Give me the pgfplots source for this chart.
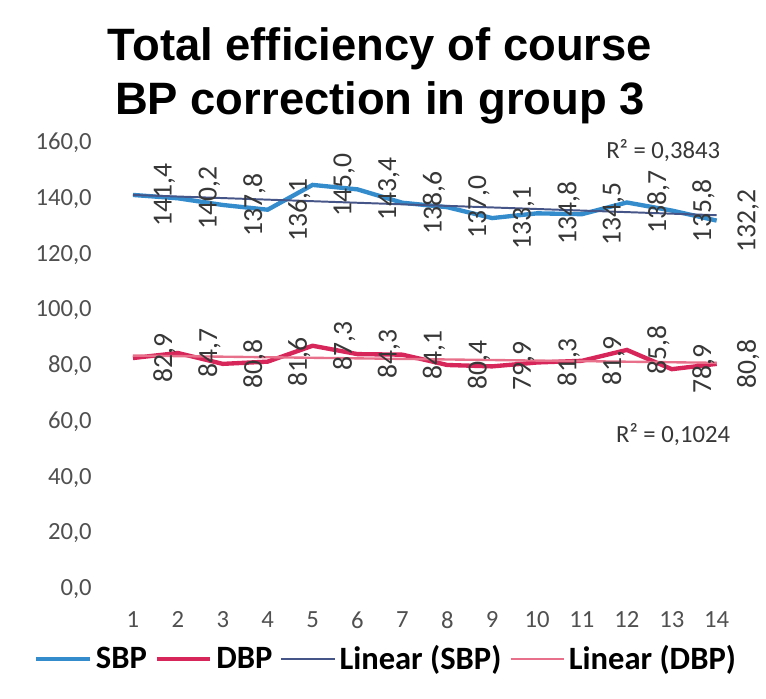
\documentclass[border=0pt]{standalone}
\usepackage{pgfplots}
\pgfplotsset{compat=1.18}
\usepackage{fontspec}
\setmainfont{Carlito}
\newfontfamily\titlefont{Liberation Sans}
\definecolor{sbp}{RGB}{52,140,205}
\definecolor{dbp}{RGB}{214,38,90}
\definecolor{linsbp}{RGB}{70,85,135}
\definecolor{lindbp}{RGB}{232,112,138}
\definecolor{ticktext}{RGB}{80,80,80}
\definecolor{labtext}{RGB}{55,55,55}
\begin{document}
\begin{tikzpicture}
\begin{axis}[
  at={(0,0)}, anchor=south west,
  scale only axis, width=318.5pt, height=226pt,
  xmin=0.5, xmax=14.5, ymin=0, ymax=160,
  xtick={1,2,3,4,5,6,7,8,9,10,11,12,13,14},
  xticklabels={1,2,3,4,5,6,7,8,9,10,11,12,13,14},
  ytick={0,20,40,60,80,100,120,140,160},
  axis line style={draw=none},
  major tick length=0pt,
  clip=false,
  /pgf/number format/fixed,
  /pgf/number format/fixed zerofill,
  /pgf/number format/precision=1,
  /pgf/number format/use comma,
  /pgf/number format/assume math mode=true,
  yticklabel style={font=\fontsize{12.5}{14}\selectfont, text=ticktext, xshift=-6pt},
  xticklabel style={font=\fontsize{12.5}{14}\selectfont, text=ticktext, yshift=-8pt},
  every node near coord/.append style={font=\fontsize{14}{15}\selectfont, text=labtext, anchor=center, xshift=16pt, rotate=90},
  legend columns=4,
  legend style={at={(0.44,-0.157)}, anchor=center, draw=none, fill=none,
    font=\fontsize{16.5}{18}\selectfont\bfseries,
    /tikz/every even column/.append style={column sep=2pt}},
  legend image code/.code={\draw[#1] (0pt,0pt) -- (27pt,0pt);},
]
\addplot[sbp, line width=2.2pt, nodes near coords] coordinates {
(1,141.4) (2,140.2) (3,137.8) (4,136.1) (5,145.0) (6,143.4) (7,138.6)
(8,137.0) (9,133.1) (10,134.8) (11,134.5) (12,138.7) (13,135.8) (14,132.2)};
\addlegendentry{SBP}
\addplot[dbp, line width=2.2pt, nodes near coords] coordinates {
(1,82.9) (2,84.7) (3,80.8) (4,81.6) (5,87.3) (6,84.3) (7,84.1)
(8,80.4) (9,79.9) (10,81.3) (11,81.9) (12,85.8) (13,78.9) (14,80.8)};
\addlegendentry{DBP}
\addplot[linsbp, line width=1pt] coordinates {(1,141.39) (14,134.12)};
\addlegendentry{Linear (SBP)}
\addplot[lindbp, line width=1.2pt] coordinates {(1,83.78) (14,81.18)};
\addlegendentry{Linear (DBP)}
\node[font=\fontsize{12.5}{14}\selectfont, text=labtext] at (axis cs:12.81,157.2) {R² = 0,3843};
\node[font=\fontsize{12.5}{14}\selectfont, text=labtext] at (axis cs:13.03,55.6) {R² = 0,1024};
\end{axis}
\node[font=\titlefont\bfseries\fontsize{23}{27.5}\selectfont, align=center] at (136.5pt,260pt) {Total efficiency of course\\BP correction in group 3};
\path[use as bounding box] (-56pt,-55.5pt) rectangle (327pt,298.5pt);
\end{tikzpicture}
\end{document}
